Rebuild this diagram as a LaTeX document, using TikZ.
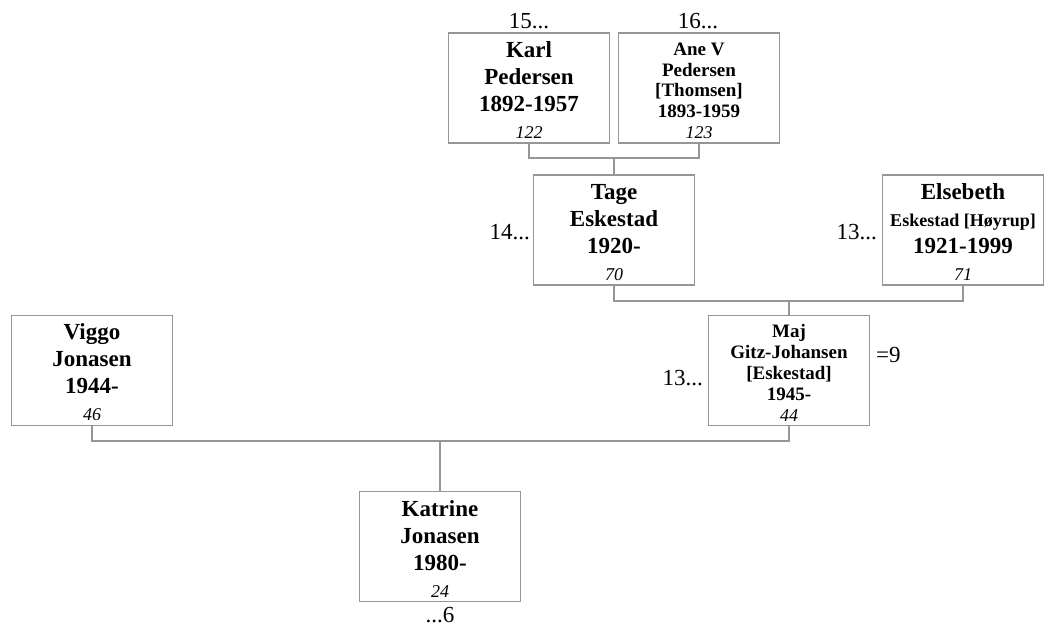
\documentclass[tikz,border=0pt]{standalone}
\usepackage{fontspec}
\setmainfont{Liberation Serif}
\definecolor{lg}{RGB}{150,150,150}
\newcommand{\bigname}{\fontsize{23}{27}\selectfont\bfseries}
\newcommand{\midname}{\fontsize{19}{20.8}\selectfont\bfseries}
\newcommand{\idno}[1]{{\fontsize{18}{20}\selectfont\mdseries\itshape #1}}
\newcommand{\topfix}{\rule{0pt}{20pt}}
\newcommand{\topfixs}{\rule{0pt}{18pt}}
\tikzset{
  person/.style={draw=lg, line width=1.4pt, inner sep=0pt, align=center,
    minimum width=161, minimum height=110},
  bigp/.style={person, font=\bigname},
  midp/.style={person, font=\midname},
  link/.style={draw=lg, line width=1.6pt},
  refno/.style={font=\fontsize{23}{26}\selectfont, inner sep=0pt}
}
\begin{document}
\begin{tikzpicture}[x=1pt,y=-1pt]
\useasboundingbox (0,0) rectangle (1047,627);
% persons
\node[bigp] (karl) at (529,88) {\topfix Karl\\Pedersen\\1892-1957\\\idno{122}};
\node[midp] (ane) at (699,88) {\topfixs Ane V\\Pedersen\\{}[Thomsen]\\1893-1959\\\idno{123}};
\node[bigp] (tage) at (614,230) {\topfix Tage\\Eskestad\\1920-\\\idno{70}};
\node[bigp] (else) at (963,230) {\topfix Elsebeth\\{\fontsize{18}{20}\selectfont Eskestad [Høyrup]}\\1921-1999\\\idno{71}};
\node[bigp] (viggo) at (92,370.5) {\topfix Viggo\\Jonasen\\1944-\\\idno{46}};
\node[midp] (maj) at (789,370.5) {\topfixs Maj\\Gitz-Johansen\\{}[Eskestad]\\1945-\\\idno{44}};
\node[bigp] (kat) at (440,546.5) {\topfix Katrine\\Jonasen\\1980-\\\idno{24}};
% reference numbers
\node[refno] (r15) at (529,21.5) {15...};
\node[refno] (r16) at (698,21.5) {16...};
\node[refno, anchor=east] (r14) at (530,232) {14...};
\node[refno, anchor=east] (r13a) at (877,232) {13...};
\node[refno, anchor=east] (r13b) at (703,378) {13...};
\node[refno, anchor=west] (r9) at (876,355) {=9};
\node[refno] (r6) at (440,615) {...6};
% connectors
\coordinate (j1) at (614,158);
\coordinate (j2) at (789,301);
\coordinate (j3) at (440,441);
\draw[link] (karl.south) |- (j1) -| (ane.south);
\draw[link] (j1) -- (tage.north);
\draw[link] (tage.south) |- (j2) -| (else.south);
\draw[link] (j2) -- (maj.north);
\draw[link] (viggo.south) |- (j3) -| (maj.south);
\draw[link] (j3) -- (kat.north);
\end{tikzpicture}
\end{document}
